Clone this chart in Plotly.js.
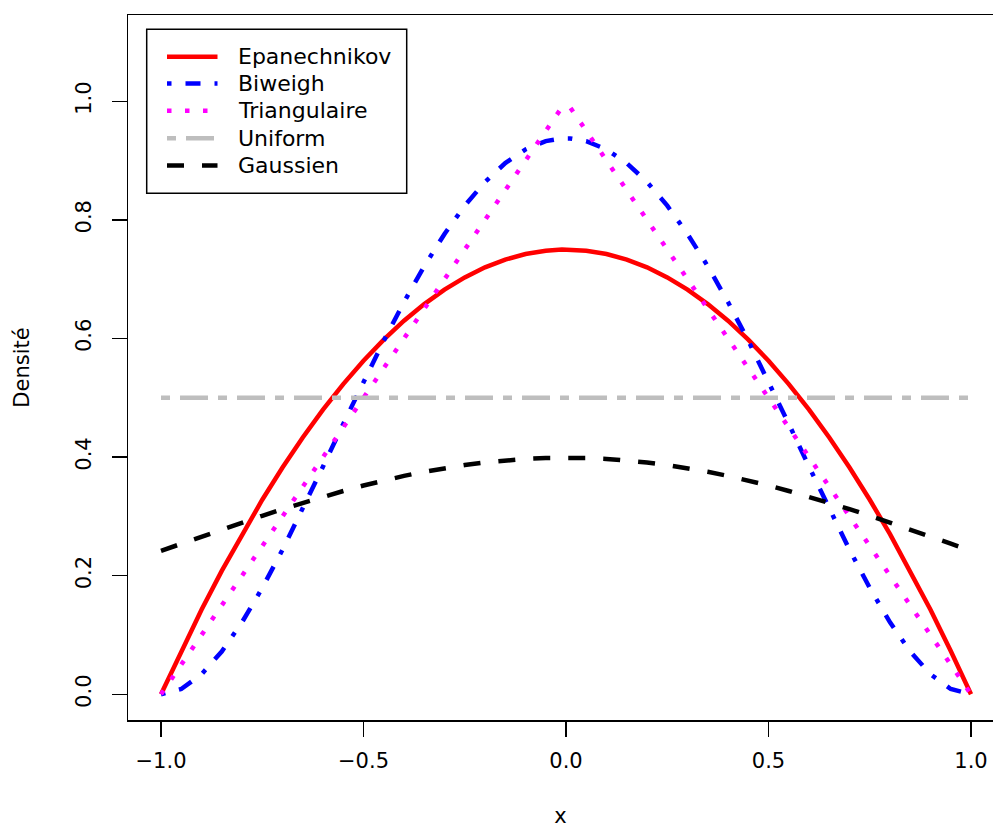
<!DOCTYPE html>
<html>
<head>
<meta charset="utf-8">
<script src="https://cdn.plot.ly/plotly-3.0.1.min.js"></script>
<style>html,body{margin:0;padding:0;background:#fff}</style>
</head>
<body>
<div id="chart" style="width:993px;height:828px"></div>
<script>
const xs = [-1,-0.95,-0.9,-0.85,-0.8,-0.75,-0.7,-0.65,-0.6,-0.55,-0.5,-0.45,-0.4,-0.35,-0.3,-0.25,-0.2,-0.15,-0.1,-0.05,-0.01,
            0.01,0.05,0.1,0.15,0.2,0.25,0.3,0.35,0.4,0.45,0.5,0.55,0.6,0.65,0.7,0.75,0.8,0.85,0.9,0.95,1];
const epanechnikov = [0,0.0731,0.1425,0.2081,0.27,0.3281,0.3825,0.4331,0.48,0.5231,0.5625,0.5981,0.63,0.6581,0.6825,0.7031,0.72,0.7331,0.7425,0.7481,0.7499,
                      0.7499,0.7481,0.7425,0.7331,0.72,0.7031,0.6825,0.6581,0.63,0.5981,0.5625,0.5231,0.48,0.4331,0.3825,0.3281,0.27,0.2081,0.1425,0.0731,0];
const biweight = [0,0.0089,0.0338,0.0722,0.1215,0.1794,0.2438,0.3127,0.384,0.4561,0.5273,0.5963,0.6615,0.7219,0.7763,0.824,0.864,0.8958,0.9188,0.9328,0.9373,
                  0.9373,0.9328,0.9188,0.8958,0.864,0.824,0.7763,0.7219,0.6615,0.5963,0.5273,0.4561,0.384,0.3127,0.2438,0.1794,0.1215,0.0722,0.0338,0.0089,0];
const triangulaire = [0,0.05,0.1,0.15,0.2,0.25,0.3,0.35,0.4,0.45,0.5,0.55,0.6,0.65,0.7,0.75,0.8,0.85,0.9,0.95,0.99,
                      0.99,0.95,0.9,0.85,0.8,0.75,0.7,0.65,0.6,0.55,0.5,0.45,0.4,0.35,0.3,0.25,0.2,0.15,0.1,0.05,0];
const uniformX = [-1, 1];
const uniformY = [0.5, 0.5];
const gaussien = [0.242,0.2541,0.2661,0.278,0.2897,0.3011,0.3123,0.323,0.3332,0.3429,0.3521,0.3605,0.3683,0.3752,0.3814,0.3867,0.391,0.3945,0.397,0.3984,0.3989,
                  0.3989,0.3984,0.397,0.3945,0.391,0.3867,0.3814,0.3752,0.3683,0.3605,0.3521,0.3429,0.3332,0.323,0.3123,0.3011,0.2897,0.278,0.2661,0.2541,0.242];
const names = ['Epanechnikov','Biweigh','Triangulaire','Uniform','Gaussien'];
const xTicks = [-1, -0.5, 0, 0.5, 1];
const xTickText = ['\u22121.0','\u22120.5','0.0','0.5','1.0'];
const yTicks = [0, 0.2, 0.4, 0.6, 0.8, 1.0];
const yTickText = ['0.0','0.2','0.4','0.6','0.8','1.0'];

const W = 4.5;
const styles = [
  {color: '#FF0000', width: W, dash: 'solid'},
  {color: '#0000FF', width: W, dash: '4.5px,14px,15px,14px'},
  {color: '#FF00FF', width: W, dash: '4.5px,13.5px'},
  {color: '#BEBEBE', width: W, dash: '9px,10px,28px,10px'},
  {color: '#000000', width: W, dash: '17px,18px'}
];
const seriesX = [xs, xs, xs, uniformX, xs];
const seriesY = [epanechnikov, biweight, triangulaire, uniformY, gaussien];
const traces = names.map((n, i) => ({
  x: seriesX[i], y: seriesY[i], name: n, mode: 'lines', line: styles[i], showlegend: false
}));

// plot area in pixels: x 128..993, y 15..720
const L = 128, R = 993, T = 15, B = 720;
const px = v => (v - L) / (R - L);
const py = v => (B - v) / (B - T);

const font = {family: 'DejaVu Sans, sans-serif', size: 21, color: '#000'};
const legendFont = {family: 'DejaVu Sans, sans-serif', size: 22, color: '#000'};
const shapes = [{
  type: 'rect', xref: 'paper', yref: 'paper',
  x0: px(146.7), x1: px(406.7), y0: py(193.3), y1: py(29.3),
  line: {color: '#000', width: 1.5}, fillcolor: '#fff', layer: 'above'
}];
const annotations = [];
const rowY = [56.7, 83.5, 110.8, 138.2, 165.6];
names.forEach((n, i) => {
  shapes.push({
    type: 'line', xref: 'paper', yref: 'paper',
    x0: px(167), x1: px(217.5), y0: py(rowY[i]), y1: py(rowY[i]),
    line: styles[i], layer: 'above'
  });
  annotations.push({
    xref: 'paper', yref: 'paper', x: px(236), y: py(rowY[i]),
    xanchor: 'left', yanchor: 'middle', text: n, showarrow: false, font: legendFont
  });
});

const layout = {
  width: 993, height: 828,
  margin: {l: L, r: 0, t: T, b: 828 - B},
  paper_bgcolor: '#fff', plot_bgcolor: '#fff',
  font: font,
  showlegend: false,
  shapes: shapes,
  annotations: annotations,
  xaxis: {
    range: [-1.0815, 1.0543], autorange: false,
    tickvals: xTicks, ticktext: xTickText,
    ticks: 'outside', ticklen: 15, tickwidth: 1.5, tickcolor: '#000',
    showline: true, linecolor: '#000', linewidth: 1.5, mirror: true,
    showgrid: false, zeroline: false,
    ticklabelstandoff: 6,
    title: {text: 'x', font: font, standoff: 40}
  },
  yaxis: {
    range: [-0.0433, 1.1455], autorange: false,
    tickvals: yTicks, ticktext: yTickText, tickangle: -90,
    ticks: 'outside', ticklen: 15, tickwidth: 1.5, tickcolor: '#000',
    showline: true, linecolor: '#000', linewidth: 1.5, mirror: false,
    showgrid: false, zeroline: false,
    ticklabelstandoff: 12,
    title: {text: 'Densité', font: font, standoff: 36}
  }
};
Plotly.newPlot('chart', traces, layout, {staticPlot: true, displayModeBar: false});
</script>
</body>
</html>
